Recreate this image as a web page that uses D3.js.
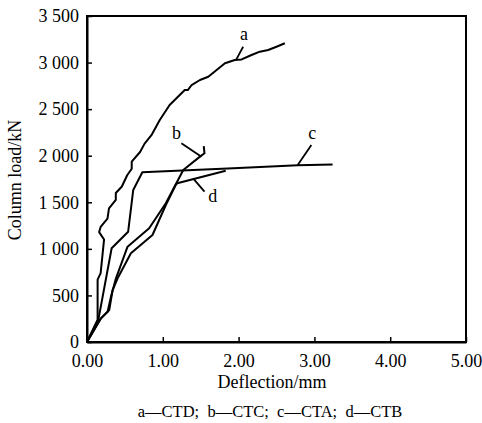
<!DOCTYPE html>
<html><head><meta charset="utf-8">
<script src="https://cdn.jsdelivr.net/npm/d3@7"></script>
<style>body{margin:0;background:#fff}svg{display:block}text{font-family:"Liberation Serif","Times New Roman",serif;fill:#000}</style>
</head><body><svg id="c" width="482" height="423"></svg>
<script>
// Data (x = deflection mm, y = column load kN)
const seriesA = [[0,0],[0.14,240],[0.14,670],[0.18,740],[0.225,1100],[0.16,1180],[0.18,1235],[0.27,1325],[0.29,1435],[0.38,1525],[0.38,1600],[0.46,1670],[0.53,1790],[0.59,1860],[0.59,1936],[0.70,2040],[0.76,2130],[0.85,2220],[0.96,2383],[1.09,2544],[1.18,2616],[1.29,2705],[1.33,2705],[1.38,2759],[1.49,2813],[1.60,2848],[1.71,2920],[1.82,2992],[1.95,3027],[2.04,3034],[2.17,3081],[2.28,3117],[2.39,3135],[2.50,3170],[2.61,3207]];
const seriesB = [[0,0],[0.184,254],[0.272,325],[0.316,486],[0.382,684],[0.535,1023],[0.82,1221],[1.04,1489],[1.27,1846],[1.49,1990],[1.55,2026],[1.54,2104]];
const seriesC = [[0,0],[0.15,240],[0.325,1006],[0.543,1184],[0.61,1632],[0.73,1822],[1.93,1865],[2.78,1898],[3.24,1907]];
const seriesD = [[0,0],[0.184,254],[0.294,344],[0.338,558],[0.404,684],[0.579,952],[0.864,1149],[1.04,1471],[1.17,1686],[1.19,1704],[1.83,1839]];
const xTicks = [0,1,2,3,4,5];
const xTickLabels = ["0.00","1.00","2.00","3.00","4.00","5.00"];
const yTicks = [0,500,1000,1500,2000,2500,3000,3500];
const yTickLabels = ["0","500","1 000","1 500","2 000","2 500","3 000","3 500"];
// labels: [text, label x, label y, leader from x,y, leader to x,y] in data units
const curveLabels = [
  ["a", 2.07, 3285, 2.06, 3170, 1.97, 3034],
  ["b", 1.18, 2222, 1.245, 2133, 1.51, 1989],
  ["c", 2.97, 2222, 2.96, 2115, 2.78, 1900],
  ["d", 1.66, 1543, 1.55, 1614, 1.40, 1757]
];
const legendText = "a—CTD;  b—CTC;  c—CTA;  d—CTB";

const svg = d3.select("#c");
const L=87, R=466, T=16, B=342;
const x = d3.scaleLinear().domain([0,5]).range([L,R]);
const y = d3.scaleLinear().domain([0,3500]).range([B,T]);

svg.append("rect").attr("x",L).attr("y",T).attr("width",R-L).attr("height",B-T)
  .attr("fill","none").attr("stroke","#000").attr("stroke-width",2);

const xa = svg.append("g").attr("transform",`translate(0,${B})`)
  .call(d3.axisBottom(x).tickValues(xTicks).tickSizeInner(-5).tickSizeOuter(0).tickPadding(12)
  .tickFormat((d,i)=>xTickLabels[i]));
const ya = svg.append("g").attr("transform",`translate(${L},0)`)
  .call(d3.axisLeft(y).tickValues(yTicks).tickSizeInner(-5).tickSizeOuter(0).tickPadding(8)
  .tickFormat((d,i)=>yTickLabels[i]));
[xa,ya].forEach(g=>{
  g.select(".domain").attr("stroke","#000").attr("stroke-width",2);
  g.selectAll(".tick line").attr("stroke","#000").attr("stroke-width",1.5);
  g.selectAll(".tick text").attr("font-size",18).attr("font-family","Liberation Serif").attr("fill","#000");
});
xa.selectAll(".tick text").attr("dy","0.71em");

const line = d3.line().x(d=>x(d[0])).y(d=>y(d[1]));
[seriesA,seriesB,seriesC,seriesD].forEach(s=>{
  svg.append("path").attr("d",line(s)).attr("fill","none").attr("stroke","#000")
    .attr("stroke-width",2).attr("stroke-linejoin","round");
});
curveLabels.forEach(c=>{
  svg.append("line").attr("x1",x(c[3])).attr("y1",y(c[4])).attr("x2",x(c[5])).attr("y2",y(c[6]))
    .attr("stroke","#000").attr("stroke-width",1.8);
  svg.append("text").attr("x",x(c[1])).attr("y",y(c[2])).attr("text-anchor","middle")
    .attr("dominant-baseline","middle").attr("font-size",18).text(c[0]);
});

svg.append("text").attr("x",272).attr("y",388).attr("text-anchor","middle").attr("font-size",18).text("Deflection/mm");
svg.append("text").attr("transform","translate(21,180) rotate(-90)").attr("text-anchor","middle").attr("font-size",18).text("Column load/kN");
svg.append("text").attr("x",270).attr("y",417).attr("text-anchor","middle").attr("font-size",16.5).attr("xml:space","preserve").style("white-space","pre").text(legendText);
</script></body></html>
